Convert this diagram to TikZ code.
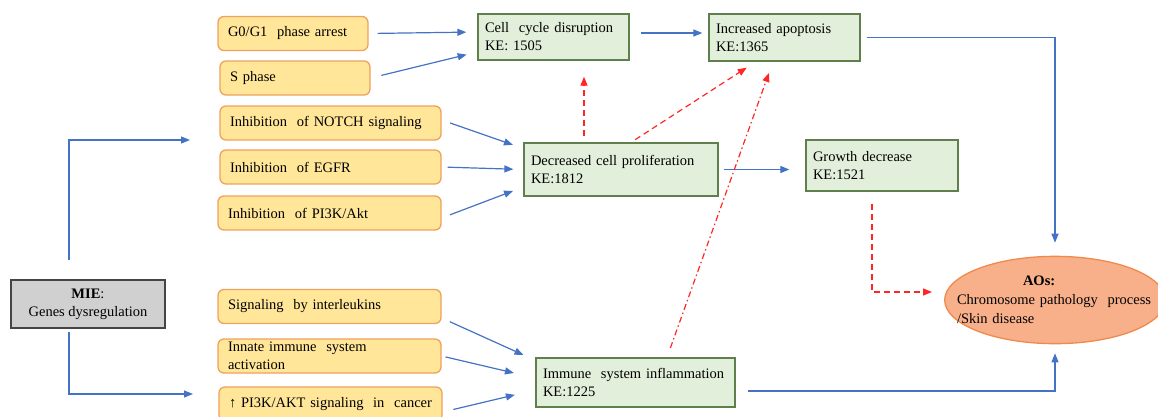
\documentclass[tikz,border=0pt]{standalone}
\usepackage{fontspec}
\setmainfont{Liberation Serif}
\usetikzlibrary{arrows.meta, shapes.geometric}
\definecolor{fillorange}{HTML}{FFE699}
\definecolor{lineorange}{HTML}{EEA25C}
\definecolor{fillgreen}{HTML}{E2EFDA}
\definecolor{linegreen}{HTML}{5F7F4C}
\definecolor{fillgray}{HTML}{D0D0D0}
\definecolor{linegray}{HTML}{454545}
\definecolor{fillsalmon}{HTML}{F7B08A}
\definecolor{linesalmon}{HTML}{F08A4B}
\definecolor{linkblue}{HTML}{4472C4}
\definecolor{linkred}{HTML}{FF2626}

\begin{document}
\begin{tikzpicture}[x=1pt,y=-1pt,
    font=\fontsize{14.5}{18}\selectfont,
    orangebox/.style={draw=lineorange,fill=fillorange,line width=1.3pt,rounded corners=6pt,
        minimum height=34pt,inner xsep=10pt,inner ysep=2pt,align=left},
    greenbox/.style={draw=linegreen,fill=fillgreen,line width=1.3pt,inner xsep=7pt,align=left},
    link/.style={draw=linkblue,line width=1.2pt,-{Triangle[length=9pt,width=7pt]}},
    redlink/.style={draw=linkred,line width=1.2pt,-{Triangle[length=9pt,width=7pt]},
        dash pattern=on 6pt off 4pt},
    reddotlink/.style={redlink,dash pattern=on 6pt off 3pt on 1.5pt off 3pt}]
    \path[use as bounding box,clip] (0,0) rectangle (1158,416);
    % causes
    \node[orangebox,text width=130pt] (g0) at (293,33.5) {G0/G1\ \ phase arrest};
    \node[orangebox,text width=130pt] (sph) at (295,78) {S phase};
    \node[orangebox,text width=201pt] (notch) at (330.5,123) {Inhibition\ \ of NOTCH signaling};
    \node[orangebox,text width=201pt] (egfr) at (330.5,167) {Inhibition\ \ of EGFR};
    \node[orangebox,text width=203pt] (pik) at (329.5,213) {Inhibition\ \ of PI3K/Akt};
    \node[orangebox,text width=203pt] (il) at (329.5,306.5) {Signaling\ \ by interleukins};
    \node[orangebox,text width=203pt] (innate) at (329.5,356) {Innate immune\ \ system\\activation};
    \node[orangebox,text width=203pt] (akt) at (330.5,404) {↑ PI3K/AKT signaling\ \ in\ \ cancer};
    % key events
    \node[greenbox,text width=137pt,minimum height=46pt] (cc) at (553.5,37) {Cell\ \ cycle disruption\\KE: 1505};
    \node[greenbox,text width=137pt,minimum height=47pt] (apo) at (784.5,37.5) {Increased apoptosis\\KE:1365};
    \node[greenbox,text width=180pt,minimum height=53pt] (prolif) at (621,169.5) {Decreased cell proliferation\\KE:1812};
    \node[greenbox,text width=138pt,minimum height=51pt] (growth) at (882,165.5) {Growth decrease\\KE:1521};
    \node[greenbox,text width=185pt,minimum height=49pt] (immune) at (635.5,382.5) {Immune\ \ system inflammation\\KE:1225};
    % MIE and AO
    \node[draw=linegray,fill=fillgray,line width=1.3pt,minimum width=154pt,minimum height=48pt,
        align=center] (mie) at (88,304) {\textbf{MIE}:\\Genes dysregulation};
    \node[ellipse,draw=linesalmon,fill=fillsalmon,line width=1.3pt,text width=196pt,
        inner xsep=-20pt,inner ysep=7pt,align=left,font=\fontsize{14.5}{19}\selectfont] (aos) at (1055,300)
        {\hspace*{66pt}\textbf{AOs:}\\Chromosome pathology\ \ process\\/Skin disease};
    \coordinate (upin) at (190,140);
    \coordinate (lowin) at (193,394);
    % blue links
    \draw[link,shorten <=19pt] ([xshift=-19pt]mie.north) |- (upin);
    \draw[link,shorten <=3pt] ([xshift=-19pt]mie.south) |- (lowin);
    \draw[link,shorten <=9pt,shorten >=11pt] (g0.east) -- ([yshift=5pt]cc.west);
    \draw[link,shorten <=11pt,shorten >=11pt] (sph.east) -- ([yshift=-15pt]cc.west);
    \draw[link,shorten <=9pt,shorten >=11pt] ([yshift=3pt]notch.east) -- ([yshift=21pt]prolif.west);
    \draw[link,shorten <=6pt,shorten >=10pt] (egfr.east) -- (prolif.west);
    \draw[link,shorten <=9pt,shorten >=11pt] ([yshift=-5pt]pik.east) -- ([yshift=-17.5pt]prolif.west);
    \draw[link,shorten <=9pt,shorten >=13pt] ([yshift=-11.5pt]il.east) -- ([yshift=-3pt]immune.north west);
    \draw[link,shorten <=4pt,shorten >=22pt] (innate.east) -- ([yshift=4.5pt]immune.west);
    \draw[link,shorten <=11pt,shorten >=21pt] ([yshift=-8pt]akt.east) -- ([yshift=-7.5pt]immune.west);
    \draw[link,shorten <=11pt,shorten >=6pt] ([yshift=4pt]cc.east) -- ([yshift=4.5pt]apo.west);
    \draw[link,shorten <=5pt,shorten >=16pt] (prolif.east) -- ([yshift=-4pt]growth.west);
    \draw[link,shorten <=6pt,shorten >=13pt] (apo.east) -| (aos.north);
    \draw[link,shorten <=12pt,shorten >=9pt] ([yshift=-8.5pt]immune.east) -| (aos.south);
    % red links
    \draw[redlink,shorten <=6pt,shorten >=16pt] ([xshift=-37pt]prolif.north) -- ([xshift=30.5pt]cc.south);
    \draw[redlink,shorten <=5pt,shorten >=11pt] ([xshift=10pt]prolif.north) -- ([xshift=-28.5pt]apo.south);
    \draw[reddotlink,shorten <=10pt,shorten >=12pt] ([xshift=31.5pt]immune.north) -- ([xshift=-11.5pt]apo.south);
    \draw[redlink,shorten <=12pt,shorten >=12pt] ([xshift=-10pt]growth.south) |- ([yshift=8pt]aos.west);
\end{tikzpicture}
\end{document}
